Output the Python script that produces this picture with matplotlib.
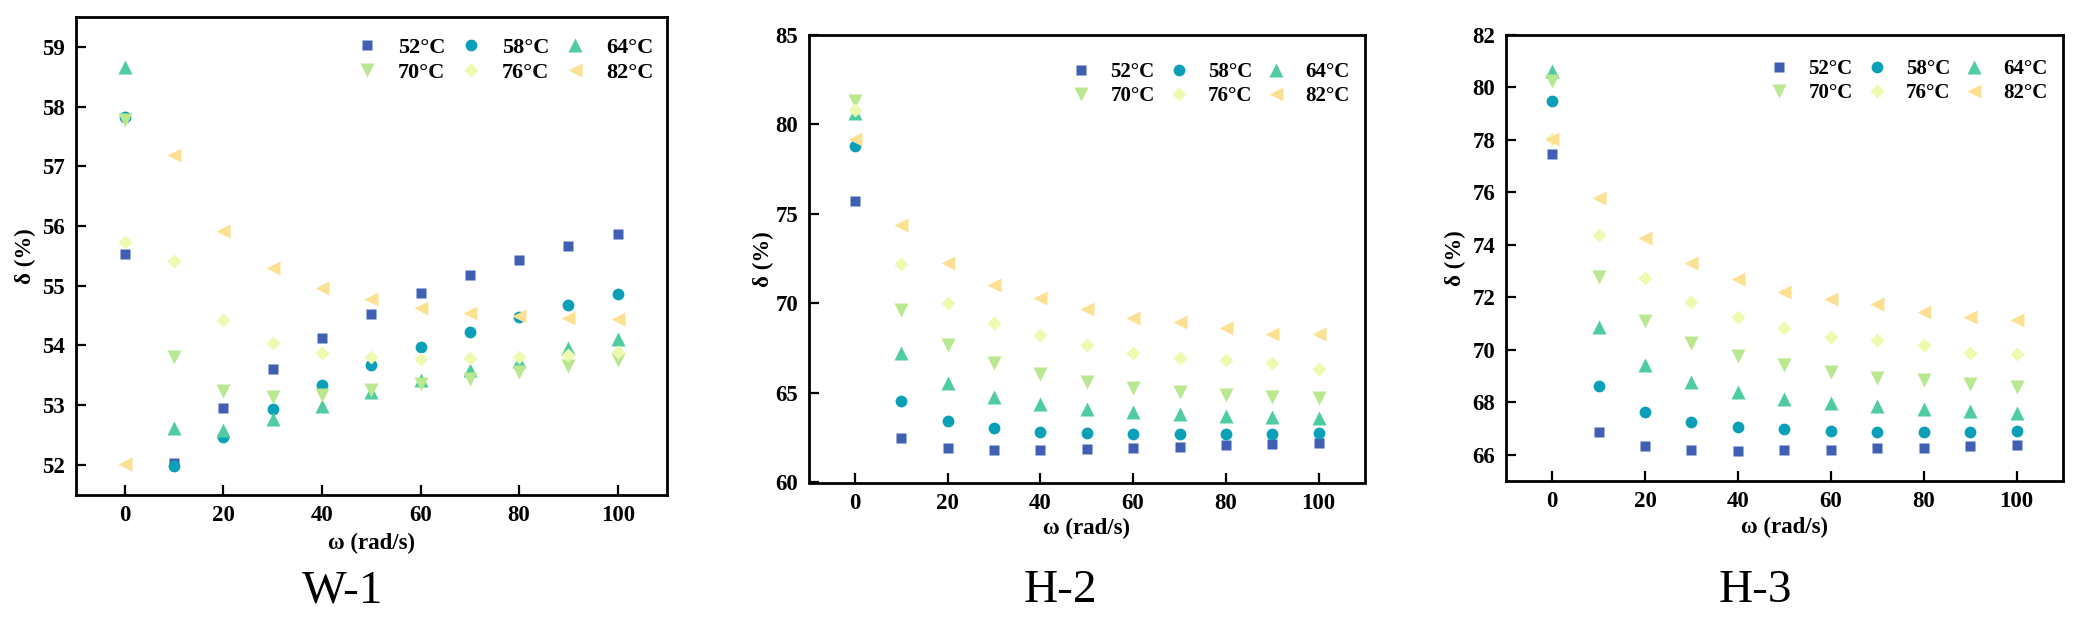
import matplotlib
matplotlib.use("Agg")
import matplotlib.pyplot as plt
from matplotlib.ticker import MultipleLocator

plt.rcParams['font.family'] = ['Liberation Serif', 'DejaVu Serif']

omega = [0, 10, 20, 30, 40, 50, 60, 70, 80, 90, 100]
temps = ['52°C', '58°C', '64°C', '70°C', '76°C', '82°C']
colors = ['#3F5FB3', '#0BA0B8', '#4FCCA0', '#B9E890', '#EEFAB0', '#FDE092']
markers = ['s', 'o', '^', 'v', 'D', '<']
msizes = [7.5, 8.5, 9.5, 9.5, 7.0, 9.5]

# W-1
w1_52 = [55.53, 52.03, 52.95, 53.61, 54.12, 54.53, 54.88, 55.18, 55.43, 55.66, 55.87]
w1_58 = [57.82, 51.98, 52.47, 52.94, 53.33, 53.67, 53.97, 54.23, 54.47, 54.67, 54.86]
w1_64 = [58.66, 52.62, 52.58, 52.77, 52.98, 53.21, 53.41, 53.59, 53.74, 53.95, 54.11]
w1_70 = [57.78, 53.80, 53.24, 53.14, 53.17, 53.25, 53.35, 53.44, 53.55, 53.66, 53.75]
w1_76 = [55.73, 55.41, 54.43, 54.04, 53.87, 53.80, 53.77, 53.78, 53.80, 53.84, 53.88]
w1_82 = [52.01, 57.18, 55.91, 55.30, 54.96, 54.77, 54.63, 54.54, 54.49, 54.46, 54.44]

# H-2
h2_52 = [75.75, 62.50, 61.94, 61.81, 61.81, 61.86, 61.94, 62.01, 62.08, 62.16, 62.23]
h2_58 = [78.82, 64.57, 63.45, 63.03, 62.81, 62.74, 62.69, 62.69, 62.69, 62.72, 62.74]
h2_64 = [80.65, 67.24, 65.57, 64.79, 64.37, 64.11, 63.93, 63.82, 63.73, 63.64, 63.58]
h2_70 = [81.31, 69.65, 67.69, 66.67, 66.05, 65.63, 65.30, 65.08, 64.90, 64.77, 64.73]
h2_76 = [80.80, 72.21, 70.05, 68.92, 68.22, 67.66, 67.22, 66.98, 66.82, 66.67, 66.32]
h2_82 = [79.21, 74.40, 72.28, 71.06, 70.31, 69.67, 69.19, 68.99, 68.61, 68.28, 68.28]

# H-3
h3_52 = [77.47, 66.88, 66.32, 66.18, 66.15, 66.17, 66.20, 66.24, 66.27, 66.32, 66.36]
h3_58 = [79.49, 68.64, 67.63, 67.24, 67.06, 66.97, 66.91, 66.88, 66.88, 66.88, 66.91]
h3_64 = [80.64, 70.86, 69.41, 68.76, 68.38, 68.14, 67.98, 67.84, 67.74, 67.66, 67.58]
h3_70 = [80.23, 72.76, 71.10, 70.27, 69.77, 69.41, 69.14, 68.94, 68.84, 68.69, 68.57]
h3_76 = [78.05, 74.39, 72.72, 71.81, 71.25, 70.83, 70.50, 70.38, 70.17, 69.89, 69.85]
h3_82 = [78.02, 75.78, 74.27, 73.31, 72.70, 72.19, 71.92, 71.75, 71.45, 71.25, 71.13]

panel_names = ['W-1', 'H-2', 'H-3']
panel_data = [
    [w1_52, w1_58, w1_64, w1_70, w1_76, w1_82],
    [h2_52, h2_58, h2_64, h2_70, h2_76, h2_82],
    [h3_52, h3_58, h3_64, h3_70, h3_76, h3_82],
]
ylims = [(51.5, 59.5), (60, 85), (65, 82)]
ysteps = [1, 5, 2]

W, H = 2078, 621
fig = plt.figure(figsize=(W / 100, H / 100), dpi=100)

# axes boxes in pixels (from top-left): left, right, top, bottom
boxes = [(75.5, 667, 17, 494.5), (808.5, 1365, 35, 482.5), (1505.7, 2063, 35, 481)]
title_pos = [(343, 591), (1060, 591), (1755, 591)]
xlabel_y = [543.4, 528.8, 527.2]
ylabel_x = [25.2, 763.0, 1455.8]
# legend targets: (text end x, row1 centre y, row2 centre y, column pitch, font size)
leg_target = [
    (652, 46.7, 75.0, 102.6, 16),
    (1348, 70.7, 97.3, 96.8, 15),
    (2046, 67.5, 93.3, 95.6, 15),
]
# matplotlib fills legend columns first; reorder so rows read 52,58,64 / 70,76,82
leg_order = [0, 3, 1, 4, 2, 5]

axes, legends = [], []
for i, (l, r, t, b) in enumerate(boxes):
    ax = fig.add_axes([l / W, 1 - b / H, (r - l) / W, (b - t) / H])
    handles = []
    for j, ys in enumerate(panel_data[i]):
        h, = ax.plot(omega, ys, linestyle='none', marker=markers[j], ms=msizes[j],
                     color=colors[j], mec='none', label=temps[j])
        handles.append(h)
    ax.set_xlim(-10, 110)
    ax.set_ylim(*ylims[i])
    ax.xaxis.set_major_locator(MultipleLocator(20))
    ax.yaxis.set_major_locator(MultipleLocator(ysteps[i]))
    ax.tick_params(direction='in', length=7, width=1.6, labelsize=16.5, pad=7.5)
    for lab in ax.get_xticklabels() + ax.get_yticklabels():
        lab.set_fontweight('bold')
    for sp in ax.spines.values():
        sp.set_linewidth(2.0)
    ax.set_xlabel('ω (rad/s)', fontsize=16.5, fontweight='bold')
    ax.set_ylabel('δ (%)', fontsize=16.5, fontweight='bold')
    ax.xaxis.set_label_coords(0.5, (b - xlabel_y[i]) / (b - t))
    ax.xaxis.label.set_verticalalignment('center')
    ax.yaxis.set_label_coords((ylabel_x[i] - l) / (r - l), 0.5)
    ax.yaxis.label.set_verticalalignment('center')

    fs = leg_target[i][4]
    leg = ax.legend([handles[k] for k in leg_order], [temps[k] for k in leg_order],
                    loc='upper right', bbox_to_anchor=(0.97, 0.95),
                    ncol=3, frameon=False, borderpad=0, borderaxespad=0,
                    handlelength=1.0, handletextpad=0.9, columnspacing=0.65,
                    labelspacing=0.2, prop={'weight': 'bold', 'size': fs})
    axes.append(ax)
    legends.append(leg)

    fig.text(title_pos[i][0] / W, 1 - title_pos[i][1] / H, panel_names[i],
             fontsize=34, ha='center', va='center')


def place_legends():
    fig.canvas.draw()
    rend = fig.canvas.get_renderer()
    for i, (ax, leg) in enumerate(zip(axes, legends)):
        l, r, t, b = boxes[i]
        tx, y1, y2, pitch, fs = leg_target[i]
        fs_px = fs * 100 / 72.0
        texts = leg.get_texts()
        e = [tt.get_window_extent(rend) for tt in texts]
        # same column: idx 0 (52) and 1 (70); next column: idx 2 (58)
        row_pitch = (e[0].y0 + e[0].y1) / 2 - (e[1].y0 + e[1].y1) / 2
        col_pitch = e[2].x0 - e[0].x0
        leg.labelspacing += ((y2 - y1) - row_pitch) / fs_px
        leg.columnspacing += (pitch - col_pitch) / fs_px
    fig.canvas.draw()
    for i, (ax, leg) in enumerate(zip(axes, legends)):
        l, r, t, b = boxes[i]
        tx, y1, y2, pitch, fs = leg_target[i]
        texts = leg.get_texts()
        e4 = texts[4].get_window_extent(rend)  # 64°C, top-right entry
        cur_right = e4.x1 - 1.5
        cur_cy = H - (e4.y0 + e4.y1) / 2 - 1.5
        dx = tx - cur_right
        dy = y1 - cur_cy
        ax_anchor = leg.get_bbox_to_anchor()
        ax_pos = ax.get_window_extent(rend)
        x0 = (ax_anchor.x0 - ax_pos.x0) / ax_pos.width
        y0 = (ax_anchor.y0 - ax_pos.y0) / ax_pos.height
        leg.set_bbox_to_anchor((x0 + dx / ax_pos.width, y0 - dy / ax_pos.height),
                               transform=ax.transAxes)


rend = None
fig.canvas.draw()
rend = fig.canvas.get_renderer()
place_legends()

fig.savefig('out.png', dpi=100)
